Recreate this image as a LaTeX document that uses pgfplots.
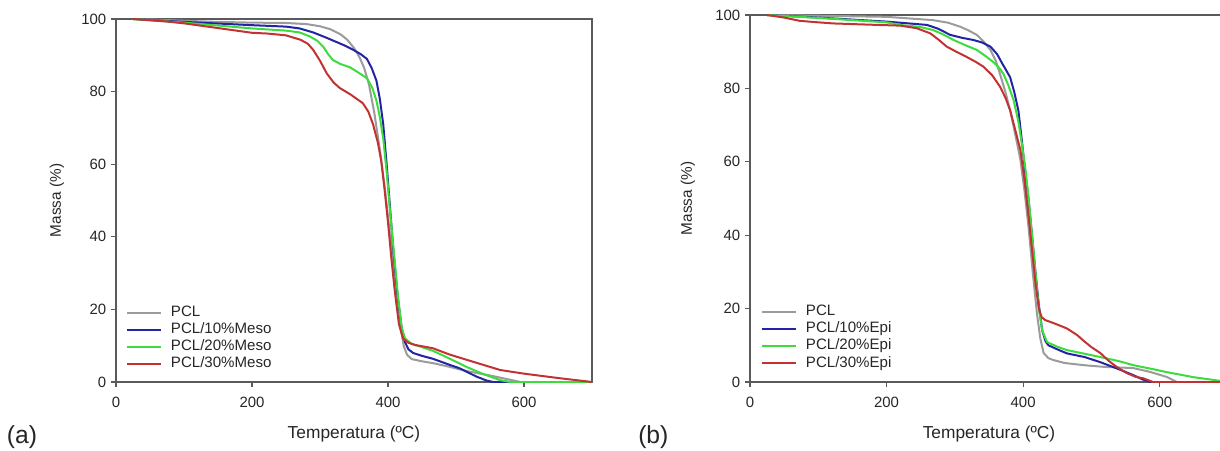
\documentclass[border=0pt]{standalone}
\usepackage{fontspec}
\setmainfont{Liberation Sans}
\usepackage{pgfplots}
\pgfplotsset{compat=1.18}
\definecolor{cgray}{RGB}{155,155,155}
\definecolor{cblue}{RGB}{35,35,165}
\definecolor{cgreen}{RGB}{60,220,60}
\definecolor{cred}{RGB}{195,50,50}
\definecolor{axgray}{RGB}{90,90,90}
\pgfplotsset{
 tgastyle/.style={
  scale only axis,
  xmin=0,xmax=700,ymin=0,ymax=100,
  xtick={0,200,400,600}, ytick={0,20,40,60,80,100},
  tick align=outside, xtick pos=left, ytick pos=left,
  major tick length=3.75pt,
  axis line style={axgray, line width=0.8pt},
  every tick/.style={axgray, line width=0.8pt},
  tick label style={font=\fontsize{11.2}{13}\selectfont, text=black!85},
  xticklabel style={yshift=-4.3pt},
  /pgf/number format/assume math mode=true,
  xlabel style={font=\fontsize{13}{15}\selectfont, text=black!85},
  ylabel style={font=\fontsize{11.5}{14}\selectfont, text=black!85},
  legend cell align=left,
  legend style={draw=none, fill=none, font=\fontsize{11.3}{13}\selectfont, text=black!85, anchor=south west, inner sep=0pt, row sep=2.3pt,
    nodes={inner ysep=0pt, inner xsep=3.4pt, text height=8.3pt, text depth=2.2pt},
    /tikz/every odd column/.append style={column sep=3pt}},
  legend image code/.code={\draw[#1] (0pt,0pt) -- (26pt,0pt);},
  every axis plot/.append style={line width=1.5pt, line join=round},
 }
}
\begin{document}
\begin{tikzpicture}
\begin{axis}[tgastyle, at={(87pt,51pt)}, anchor=south west, width=357pt, height=272.25pt,
 xlabel={Temperatura (ºC)}, ylabel={Massa (\%)},
 xlabel style={at={(axis description cs:0.5,-0.143)}, anchor=center},
 ylabel style={at={(axis description cs:-0.124,0.5)}, anchor=center},
 legend style={at={(axis description cs:0.020,0.03)}}]
\addplot[cgray] coordinates {(25,100) (60,99.8) (100,99.5) (150,99.2) (200,99) (250,98.9) (280,98.6) (300,98.0) (315,97.2) (330,95.8) (340,94.3) (350,92.0) (358,89.5) (365,86.5) (372,82) (380,74) (388,64) (395,54) (402,42) (410,28) (417,17) (423,10) (428,7.5) (435,6.3) (450,5.7) (466,5.2) (490,4.2) (516,3.0) (550,1.8) (580,0.6) (595,0) (700,0)};
\addlegendentry{PCL}
\addplot[cblue] coordinates {(25,100) (100,99.2) (200,98.3) (250,97.9) (270,97.4) (290,96.3) (310,94.8) (320,94.0) (335,92.8) (349,91.5) (360,90.3) (369,89.0) (376,86.5) (383,83) (388,78) (393,71) (398,60) (403,48) (408,36) (414,24) (420,15) (425,11) (430,9) (437,8) (450,7.2) (466,6.4) (491,4.7) (505,3.8) (516,2.8) (530,1.5) (545,0.4) (555,0) (700,0)};
\addlegendentry{PCL/10\%Meso}
\addplot[cgreen] coordinates {(25,100) (100,99.0) (200,97.4) (250,96.8) (270,96.3) (285,95.2) (296,94.0) (305,92.3) (312,90.3) (319,88.7) (330,87.6) (344,86.7) (356,85.3) (369,83.7) (377,81) (383,77.5) (388,73) (393,67) (398,58) (403,47) (409,35) (415,23) (420,15) (425,12) (435,10.5) (450,9.6) (466,8.6) (490,6.5) (516,4.1) (540,2.2) (565,0.5) (580,0) (700,0)};
\addlegendentry{PCL/20\%Meso}
\addplot[cred] coordinates {(25,100) (75,99.3) (100,98.8) (150,97.5) (200,96.2) (222,96.0) (250,95.5) (271,94.3) (282,93.2) (290,91.5) (300,88.5) (310,85) (320,82.5) (329,81) (345,79.2) (363,76.8) (371,74.5) (378,71) (385,66) (390,61) (395,53) (400,44) (405,34) (410,25) (416,16) (422,12) (430,10.8) (440,10.2) (466,9.3) (490,7.6) (516,6.1) (565,3.3) (600,2.3) (650,1.1) (700,0)};
\addlegendentry{PCL/30\%Meso}
\end{axis}
\begin{axis}[tgastyle, at={(562.5pt,51pt)}, anchor=south west, width=358.5pt, height=275.25pt,
 xlabel={Temperatura (ºC)}, ylabel={Massa (\%)},
 xlabel style={at={(axis description cs:0.5,-0.142)}, anchor=center},
 ylabel style={at={(axis description cs:-0.130,0.5)}, anchor=center},
 legend style={at={(axis description cs:0.022,0.032)}}]
\addplot[cgray] coordinates {(25,100) (100,99.8) (200,99.5) (268,98.6) (290,97.9) (308,96.8) (320,95.8) (332,94.6) (342,92.8) (352,90.5) (360,87.5) (366,84) (374,79) (381,74) (389,67) (396,60.5) (402,52) (408,42) (414,30) (420,19) (425,12) (430,7.9) (437,6.5) (444,6.0) (460,5.2) (488,4.6) (520,4.1) (561,3.8) (585,2.8) (610,1.4) (625,0) (700,0)};
\addlegendentry{PCL}
\addplot[cblue] coordinates {(25,100) (100,99.3) (200,98.2) (220,97.9) (259,97.3) (275,96.3) (293,94.6) (310,93.8) (327,93.2) (340,92.5) (352,91.4) (362,89.3) (369,86.9) (375,85) (381,83) (387,79) (393,74) (398,66) (403,57) (408,49.6) (413,40) (418,30) (423,21) (428,14) (433,11) (437,10) (450,8.9) (464,7.8) (490,6.8) (513,5.4) (540,3.5) (561,1.9) (575,0.7) (586,0) (700,0)};
\addlegendentry{PCL/10\%Epi}
\addplot[cgreen] coordinates {(25,100) (100,99.2) (200,98.0) (220,97.3) (250,96.7) (268,95.9) (283,94.7) (298,93.2) (315,91.8) (332,90.5) (345,88.8) (356,87.2) (364,85.8) (371,84) (378,81) (386,76.8) (393,71) (398,65) (403,58.6) (408,50) (413,40) (418,30) (423,20) (428,14) (435,10.9) (450,9.6) (464,8.7) (490,7.7) (513,6.8) (540,5.7) (561,4.6) (590,3.5) (610,2.7) (650,1.3) (689,0.3) (700,0)};
\addlegendentry{PCL/20\%Epi}
\addplot[cred] coordinates {(25,100) (50,99.3) (73,98.4) (100,98.0) (122,97.7) (170,97.4) (220,97.1) (244,96.4) (264,95.0) (276,93.3) (288,91.4) (300,90.2) (317,88.6) (330,87.3) (342,85.9) (355,83.5) (366,80.5) (374,77.5) (381,74) (388,69) (396,63.2) (402,55) (408,45) (413,36) (418,27) (423,20) (427,17.7) (432,16.9) (448,15.8) (464,14.6) (479,12.8) (490,11) (500,9.5) (513,7.9) (525,5.8) (537,4.1) (552,2.4) (565,1.4) (576,1.0) (590,0) (700,0)};
\addlegendentry{PCL/30\%Epi}
\end{axis}
\node[font=\fontsize{18.5}{22}\selectfont, text=black!85] at (16.5pt,9.75pt) {(a)};
\node[font=\fontsize{18.5}{22}\selectfont, text=black!85] at (490pt,9.75pt) {(b)};
\pgfresetboundingbox
\path[use as bounding box] (0,0) rectangle (915pt,337.5pt);
\end{tikzpicture}
\end{document}
